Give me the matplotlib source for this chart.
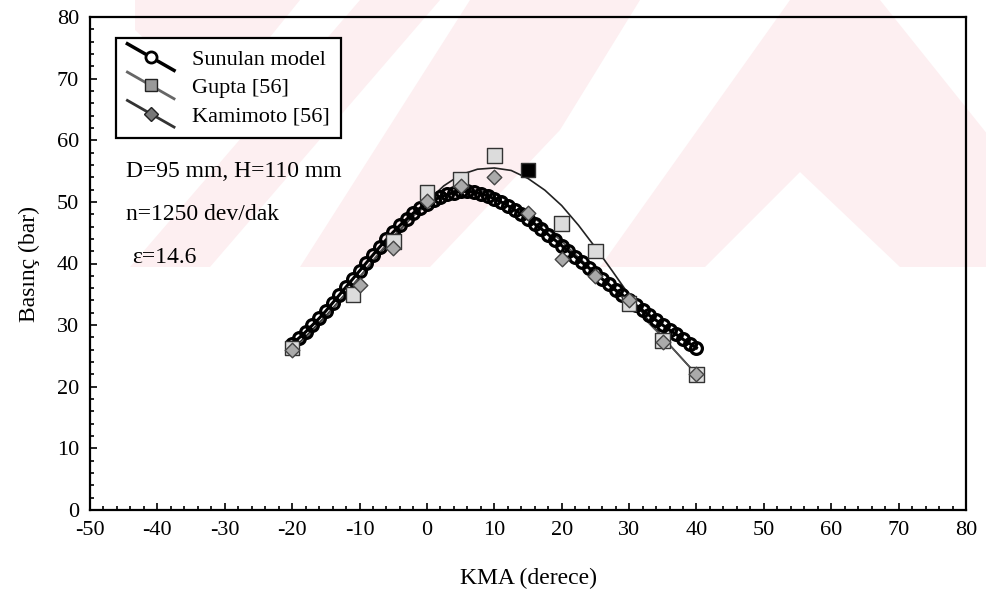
import numpy as np
import matplotlib
matplotlib.use('Agg')
import matplotlib.pyplot as plt
from matplotlib.lines import Line2D
from matplotlib.patches import Polygon
from matplotlib.legend_handler import HandlerLine2D
from matplotlib.ticker import MultipleLocator

plt.rcParams['font.family'] = ['Liberation Serif', 'DejaVu Serif']
plt.rcParams['axes.unicode_minus'] = False

# VERI: Sunulan model (her 1 derece)
model_x = list(range(-20, 41))
model_y = [27.0, 27.9, 28.9, 30.0, 31.1, 32.3, 33.6, 34.9, 36.2, 37.5,
           38.8, 40.1, 41.4, 42.7, 43.9, 45.1, 46.2, 47.2, 48.2, 49.0,
           49.7, 50.3, 50.8, 51.2, 51.5, 51.7, 51.7, 51.6, 51.3, 51.0,
           50.5, 50.0, 49.4, 48.7, 48.0, 47.2, 46.4, 45.6, 44.7, 43.8,
           42.9, 42.0, 41.1, 40.2, 39.3, 38.4, 37.5, 36.6, 35.7, 34.9,
           34.0, 33.2, 32.4, 31.6, 30.8, 30.0, 29.2, 28.5, 27.7, 27.0,
           26.3]

# Gupta [56] olcum noktalari
gupta_x = [-20, -11, -5, 0, 5, 10, 15, 20, 25, 30, 35, 40]
gupta_y = [26.3, 35.0, 43.6, 51.5, 53.6, 57.5, 55.2, 46.5, 42.0, 33.5, 27.5, 22.0]

# Kamimoto [56] olcum noktalari
kami_x = [-20, -10, -5, 0, 5, 10, 15, 20, 25, 30, 35, 40]
kami_y = [26.0, 36.5, 42.5, 50.2, 52.6, 54.1, 48.2, 40.7, 38.0, 34.0, 27.3, 22.0]

# egri cizgileri
curve_x = [-20, -17.5, -15, -12.5, -10, -7.5, -5, -2.5, 0, 2.5, 5, 7.5, 10,
           12.5, 15, 17.5, 20, 22.5, 25, 27.5, 30, 32.5, 35, 37.5, 40]
gupta_curve = [26.0, 28.7, 31.5, 34.6, 37.8, 41.0, 44.2, 47.2, 50.0, 52.6,
               54.4, 55.3, 55.5, 55.1, 53.8, 51.9, 49.4, 46.2, 42.6, 38.8,
               34.9, 31.3, 28.0, 25.0, 22.0]
kami_curve = [25.5, 28.3, 31.3, 34.5, 37.8, 41.2, 44.4, 47.3, 49.5, 51.0,
              51.8, 51.9, 51.3, 50.0, 48.2, 46.0, 43.6, 41.0, 38.5, 36.0,
              33.5, 30.8, 28.0, 25.0, 22.0]

fig = plt.figure(figsize=(9.86, 5.92), dpi=100)

# arka plandaki soluk pembe filigran (yaklasik)
H = 592
pink = '#fdeff1'
wm = [
    [(135, 0), (300, 0), (215, 105), (135, 30)],
    [(360, 0), (440, 0), (210, 267), (130, 267)],
    [(470, 0), (640, 0), (560, 130), (430, 267), (300, 267)],
    [(600, 267), (790, 0), (880, 0), (1000, 150), (1000, 267), (900, 267),
     (800, 172), (705, 267)],
]
for poly in wm:
    pts = [(px, H - py) for px, py in poly]
    fig.patches.append(Polygon(pts, closed=True, transform=None,
                               facecolor=pink, edgecolor='none', zorder=-5))

ax = fig.add_axes([90 / 986, 1 - 510 / 592, 876 / 986, 493 / 592])
ax.set_zorder(2)
ax.set_facecolor('none')

ax.plot(curve_x, gupta_curve, color='#222222', lw=1.2, zorder=2)
ax.plot(curve_x, kami_curve, color='#555555', lw=1.2, zorder=2)
ax.plot(model_x, model_y, color='black', lw=2.2, marker='o', ms=8.5,
        mfc='none', mec='black', mew=2.3, zorder=4)

g_colors = ['black' if x == 15 else '#dcdcdc' for x in gupta_x]
ax.scatter(gupta_x, gupta_y, marker='s', s=110, c=g_colors,
           edgecolors='#333333', linewidths=1.0, zorder=5)
ax.scatter(kami_x, kami_y, marker='D', s=55, c='#aaaaaa',
           edgecolors='#444444', linewidths=1.0, zorder=5)

ax.set_xlim(-50, 80)
ax.set_ylim(0, 80)
ax.xaxis.set_major_locator(MultipleLocator(10))
ax.yaxis.set_major_locator(MultipleLocator(10))
ax.xaxis.set_minor_locator(MultipleLocator(2))
ax.yaxis.set_minor_locator(MultipleLocator(2))
ax.tick_params(which='both', direction='in', top=False, right=False,
               labelsize=16, width=1.2)
ax.tick_params(which='major', length=5, pad=8)
ax.tick_params(which='minor', length=3)
for s in ax.spines.values():
    s.set_linewidth(1.6)

ax.set_xlabel('KMA (derece)', fontsize=17, labelpad=20)
ax.set_ylabel('Basınç (bar)', fontsize=17, labelpad=12)

ax.text(-44.7, 54.9, 'D=95 mm, H=110 mm', fontsize=17, va='center')
ax.text(-44.7, 47.9, 'n=1250 dev/dak', fontsize=17, va='center')
ax.text(-43.8, 40.9, 'ε=14.6', fontsize=17, va='center')


# lejant: capraz cizgili semboller
class DiagHandler(HandlerLine2D):
    def create_artists(self, legend, orig_handle, xdescent, ydescent,
                       width, height, fontsize, trans):
        x0, x1 = -xdescent, width - xdescent
        y0, y1 = height - ydescent + 4, -ydescent - 4
        line = Line2D([x0, x1], [y0, y1])
        self.update_prop(line, orig_handle, legend)
        line.set_marker('None')
        mk = Line2D([(x0 + x1) / 2], [(y0 + y1) / 2])
        self.update_prop(mk, orig_handle, legend)
        mk.set_linestyle('None')
        line.set_transform(trans)
        mk.set_transform(trans)
        return [line, mk]


h1 = Line2D([], [], color='black', lw=2.5, marker='o', ms=8,
            mfc='white', mec='black', mew=2)
h2 = Line2D([], [], color='#666666', lw=2.0, marker='s', ms=8,
            mfc='#999999', mec='#222222')
h3 = Line2D([], [], color='#333333', lw=2.0, marker='D', ms=7,
            mfc='#777777', mec='#222222')
leg = ax.legend([h1, h2, h3], ['Sunulan model', 'Gupta [56]', 'Kamimoto [56]'],
                handler_map={Line2D: DiagHandler()},
                loc='upper left', bbox_to_anchor=(0.03, 0.957),
                borderaxespad=0, fontsize=16, fancybox=False, framealpha=1,
                edgecolor='black', handlelength=2.1, handletextpad=0.8,
                labelspacing=0.35, borderpad=0.5)
leg.get_frame().set_linewidth(1.6)

fig.savefig('out.png', dpi=100)
